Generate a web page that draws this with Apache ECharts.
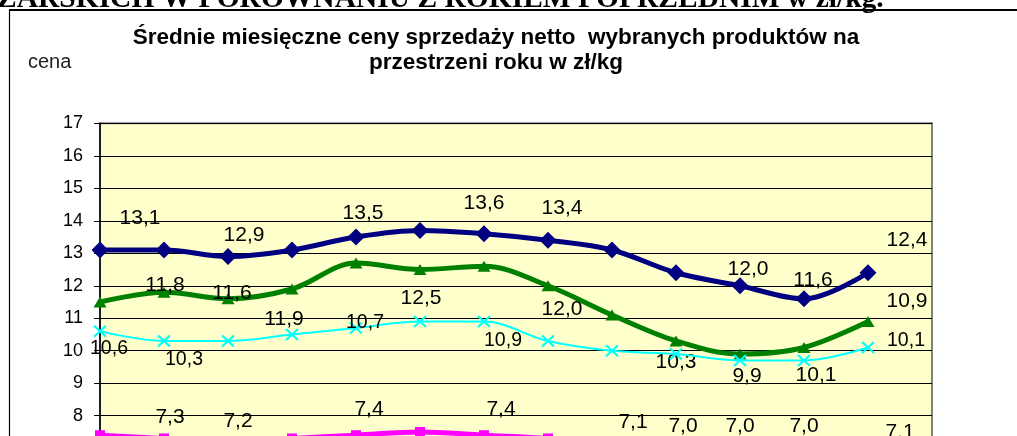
<!DOCTYPE html>
<html><head><meta charset="utf-8">
<script src="https://cdn.jsdelivr.net/npm/echarts@6/dist/echarts.min.js"></script>
<style>
html,body{margin:0;padding:0;background:#fff;overflow:hidden;width:1017px;height:436px}
#c{width:1017px;height:600px}
</style>
</head><body><div id="c"></div>
<script>
// ---- data ----
const categories = ['XII','I','II','III','IV','V','VI','VII','VIII','IX','X','XI','XII',''];
const seriesNames = ['Seria 1','Seria 2','Seria 3','Seria 4'];
const navyValues    = [13.1,13.1,12.9,13.1,13.5,13.7,13.6,13.4,13.1,12.4,12.0,11.6,12.4];
const greenValues   = [11.5,11.8,11.6,11.9,12.7,12.5,12.6,12.0,11.1,10.3,9.9,10.1,10.9];
const cyanValues    = [10.6,10.3,10.3,10.5,10.7,10.9,10.9,10.3,10.0,9.9,9.7,9.7,10.1];
const magentaValues = [7.4,7.3,7.2,7.3,7.4,7.5,7.4,7.3,7.1,7.0,7.0,7.0,7.1];
const yMin = 5, yMax = 17, yStep = 1;
const titleText = 'Średnie miesięczne ceny sprzedaży netto  wybranych produktów na\nprzestrzeni roku w zł/kg';
const headingText = 'ZARSKICH W PORÓWNANIU Z ROKIEM POPRZEDNIM w zł/kg.';
const yAxisName = 'cena';

// ---- label placement (index -> pixel offset from point) ----
const navyLabels = {0:[40,-32],2:[16,-21],4:[7,-24],6:[0,-31],7:[14,-32],10:[8,-17],11:[9,-19],12:[39,-33]};
const greenLabels = {1:[1,-7],2:[4,-6],3:[-8,30],5:[1,29],7:[14,23],9:[0,21],10:[7,22],11:[12,28],12:[39,-20]};
const cyanLabels = {0:[9,17],1:[20,19],4:[9,-5],6:[19,19],12:[38,-7]};
const magentaLabels = {1:[6,-21],2:[10,-21],4:[13,-26],6:[17,-26],8:[21,-23],9:[7,-22],10:[0,-22],11:[0,-22],12:[32,-13]};

const fmt = p => Number(p.value).toFixed(1).replace('.', ',');
function build(values, labels, fontSize) {
  return values.map((v, i) => labels[i] ? {value: v, label: {show: true, position: 'inside', offset: labels[i], fontSize: fontSize}} : v);
}
function baseLabel() {
  return {show: false, color: '#000', fontFamily: 'Liberation Sans, Arial, sans-serif', formatter: fmt};
}

const chart = echarts.init(document.getElementById('c'), null, {renderer: 'canvas'});
chart.setOption({
  animation: false,
  backgroundColor: '#ffffff',
  grid: {left: 100, top: 123.3, width: 832, height: 389.9, show: true,
         backgroundColor: '#FFFFCC', borderColor: '#808080', borderWidth: 2},
  xAxis: {type: 'category', data: categories, boundaryGap: false,
          axisLine: {lineStyle: {color: '#000', width: 1}},
          axisTick: {show: false}, axisLabel: {show: false}, splitLine: {show: false}},
  yAxis: {type: 'value', min: yMin, max: yMax, interval: yStep,
          axisLine: {show: true, lineStyle: {color: '#000', width: 1.5}},
          axisTick: {show: true, length: 6, lineStyle: {color: '#000'}},
          axisLabel: {color: '#000', fontSize: 18, margin: 17, fontFamily: 'Liberation Sans, Arial, sans-serif'},
          splitLine: {show: true, lineStyle: {color: '#000', width: 1}}},
  graphic: [
    {type: 'line', shape: {x1: 9, y1: 10, x2: 1017, y2: 10}, style: {stroke: '#000', lineWidth: 2}, z: 100},
    {type: 'line', shape: {x1: 9.5, y1: 9, x2: 9.5, y2: 600}, style: {stroke: '#000', lineWidth: 1.2}, z: 100},
    {type: 'text', x: -3, y: 14, style: {text: headingText, font: 'bold 29.5px "Liberation Serif", "Times New Roman", serif', fill: '#000', textVerticalAlign: 'bottom'}, z: 100},
    {type: 'text', x: 496, y: 25, style: {text: titleText, font: 'bold 22.5px "Liberation Sans", Arial, sans-serif', fill: '#000', textAlign: 'center', textVerticalAlign: 'top', lineHeight: 25}, z: 100},
    {type: 'text', x: 28, y: 62, style: {text: yAxisName, font: '20px "Liberation Sans", Arial, sans-serif', fill: '#222', textVerticalAlign: 'middle'}, z: 100}
  ],
  series: [
    {name: seriesNames[0], type: 'line', smooth: 0.35, data: build(navyValues, navyLabels, 21),
     symbol: 'diamond', symbolSize: 17, showAllSymbol: true,
     lineStyle: {color: '#000080', width: 5}, itemStyle: {color: '#000080'}, label: baseLabel(), z: 3},
    {name: seriesNames[1], type: 'line', smooth: 0.35, data: build(greenValues, greenLabels, 21),
     symbol: 'triangle', symbolSize: [13, 11], showAllSymbol: true,
     lineStyle: {color: '#008000', width: 5}, itemStyle: {color: '#008000'}, label: baseLabel(), z: 3},
    {name: seriesNames[2], type: 'line', smooth: 0.35, data: build(cyanValues, cyanLabels, 19.5),
     symbol: 'path://M0,0 L10,10 M10,0 L0,10', symbolSize: [12, 11], showAllSymbol: true,
     lineStyle: {color: '#00FFFF', width: 2},
     itemStyle: {color: 'rgba(0,0,0,0)', borderColor: '#00FFFF', borderWidth: 2}, label: baseLabel(), z: 4},
    {name: seriesNames[3], type: 'line', smooth: 0.35, data: build(magentaValues, magentaLabels, 21),
     symbol: 'rect', symbolSize: 10, showAllSymbol: true,
     lineStyle: {color: '#FF00FF', width: 5}, itemStyle: {color: '#FF00FF'}, label: baseLabel(), z: 3}
  ]
});
</script>
</body></html>
